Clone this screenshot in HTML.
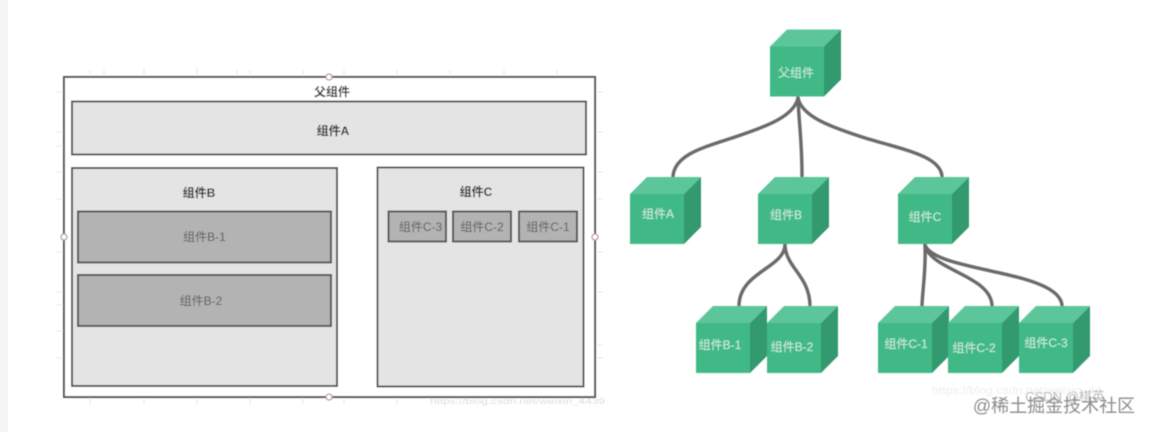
<!DOCTYPE html>
<html lang="zh">
<head>
<meta charset="utf-8">
<style>
html,body{margin:0;padding:0;background:#fff;width:1149px;height:432px;overflow:hidden}
svg{display:block}
text{font-family:"Liberation Sans","Noto Sans CJK SC",sans-serif}
.b{font-size:12px;font-weight:bold;fill:#333;text-anchor:middle}
.g{font-size:12px;fill:#5a5a5a;text-anchor:middle}
.w{font-size:12px;fill:#cfeee0;text-anchor:middle}
.r{stroke:#555;stroke-width:2}
.l{fill:#e4e4e4}
.d{fill:#b3b3b3}
.c{fill:none;stroke:#6b6b6b;stroke-width:3.4;stroke-linecap:round}
.f{fill:#3fb986}.t{fill:#5cc69a}.s{fill:#329a6e}
.k{stroke:#e8e8e8;stroke-width:1}
</style>
</head>
<body>
<svg width="1149" height="432" viewBox="0 0 1149 432" xmlns="http://www.w3.org/2000/svg">
<defs>
<filter id="bl" x="-5%" y="-5%" width="110%" height="110%"><feGaussianBlur stdDeviation="0.45"/></filter>
<g id="cube">
<polygon class="t" points="0,17 17,0 71,0 54,17"/>
<polygon class="s" points="54,17 71,0 71,50 54,67"/>
<rect class="f" x="0" y="17" width="54" height="50"/>
</g>
</defs>
<rect width="1149" height="432" fill="#fff"/>
<rect width="8" height="432" fill="#f3f5f6"/>
<g filter="url(#bl)">
<g class="k">
<path d="M90 70V77M104 70V77M144 68V77M197 68V77M237 70V77M250 70V77M303 70V77M344 70V77M397 70V77M450 70V77M504 70V77M557 70V77"/>
<path d="M90 397V404M144 397V404M197 397V404M250 397V404M303 397V404M344 397V404M397 397V404"/>
<path d="M56 92H64M56 132H64M56 146H64M56 172H64M56 199H64M56 252H64M56 292H64M56 305H64M56 331H64M56 358H64"/>
<path d="M595 92H603M595 132H603M595 172H603M595 199H603M595 252H603M595 292H603M595 345H603M595 358H603"/>
</g>
<rect class="r" x="64" y="77" width="531" height="320" fill="#fff"/>
<rect class="r l" x="72" y="101.500" width="514" height="53"/>
<rect class="r l" x="72" y="168" width="265" height="218"/>
<rect class="r d" x="78" y="211.500" width="253" height="51"/>
<rect class="r d" x="78" y="275" width="253" height="51"/>
<rect class="r l" x="377.500" y="167.500" width="206" height="219"/>
<rect class="r d" x="388.500" y="211.500" width="57.500" height="30"/>
<rect class="r d" x="453" y="211.500" width="58" height="30"/>
<rect class="r d" x="519" y="211.500" width="58" height="30"/>
<g fill="#fff" stroke="#b89a9f" stroke-width="1.300">
<circle cx="329" cy="77" r="3"/><circle cx="64" cy="237" r="3"/><circle cx="595" cy="237" r="3"/><circle cx="329" cy="397" r="3"/>
</g>
<text class="b" x="332" y="96">父组件</text>
<text class="b" x="333" y="135">组件A</text>
<text class="b" x="199" y="197">组件B</text>
<text class="b" x="476" y="196">组件C</text>
<text class="g" x="204.500" y="241">组件B-1</text>
<text class="g" x="201" y="305">组件B-2</text>
<text class="g" x="420.500" y="231">组件C-3</text>
<text class="g" x="482" y="231">组件C-2</text>
<text class="g" x="548" y="231">组件C-1</text>
<path class="c" d="M798 98C794 116 768 126 735 137C705 147 675 154 673 176"/>
<path class="c" d="M798 98C799 125 802 140 802 176"/>
<path class="c" d="M798 98C802 116 828 126 862 137C900 149 940 155 942 176"/>
<path class="c" d="M785 245C784 268 740 272 739 305"/>
<path class="c" d="M785 245C786 268 809 275 810 305"/>
<path class="c" d="M925 245C926 270 923 285 922 305"/>
<path class="c" d="M925 245C930 270 990 275 992 305"/>
<path class="c" d="M925 245C935 272 1058 270 1062 305"/>
<use href="#cube" x="770" y="29.500"/>
<use href="#cube" x="630" y="177"/>
<use href="#cube" x="758" y="177"/>
<use href="#cube" x="898" y="177"/>
<use href="#cube" x="696" y="306"/>
<use href="#cube" x="767" y="306"/>
<use href="#cube" x="878" y="306"/>
<use href="#cube" x="948" y="306"/>
<use href="#cube" x="1019" y="306"/>
<text class="w" x="796" y="77">父组件</text>
<text class="w" x="658" y="218">组件A</text>
<text class="w" x="786" y="219">组件B</text>
<text class="w" x="925" y="221">组件C</text>
<text class="w" x="720" y="349">组件B-1</text>
<text class="w" x="792" y="351">组件B-2</text>
<text class="w" x="906" y="348">组件C-1</text>
<text class="w" x="974" y="352">组件C-2</text>
<text class="w" x="1046" y="347">组件C-3</text>
<text x="932" y="394" font-size="11" fill="#eeeeee" textLength="170" lengthAdjust="spacingAndGlyphs">https://blog.csdn.net/weixin_44</text>
<text x="430" y="404" font-size="8" fill="#dddddd" textLength="175" lengthAdjust="spacingAndGlyphs">https://blog.csdn.net/weixin_4439</text>
<text x="1065" y="401" font-size="13" fill="#bbbbbb" text-anchor="middle">CSDN @棋英</text>
<text x="1054" y="412" font-size="18" fill="#8c8c8c" text-anchor="middle">@稀土掘金技术社区</text>
</g>
</svg>
</body>
</html>
